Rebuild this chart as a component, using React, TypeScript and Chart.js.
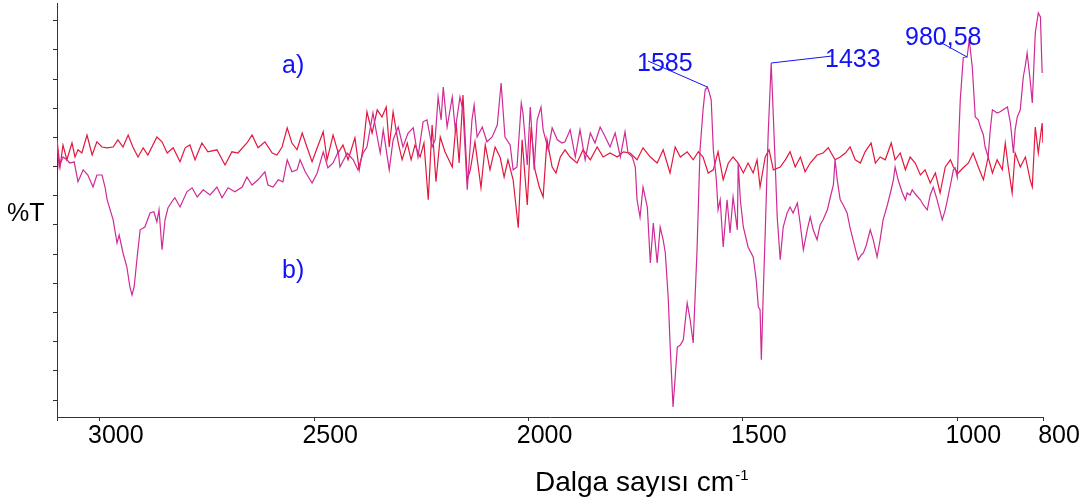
import React, { useEffect, useRef } from "react";
import { Chart, registerables } from "chart.js";

Chart.register(...registerables);

// ---- Data (wavenumber in cm-1, transmittance in arbitrary %T units) ----
const wavenumbersA = [
  3100, 3093, 3086, 3077, 3065, 3058, 3051, 3042, 3030, 3018,
  3007, 2995, 2983, 2969, 2958, 2946, 2934, 2923, 2911, 2899,
  2888, 2867, 2855, 2843, 2829, 2813, 2801, 2790, 2778, 2762,
  2748, 2727, 2708, 2692, 2678, 2657, 2645, 2631, 2615, 2598,
  2587, 2575, 2563, 2552, 2540, 2528, 2517, 2505, 2493, 2479,
  2470, 2456, 2444, 2433, 2421, 2405, 2395, 2386, 2377, 2365,
  2353, 2342, 2332, 2325, 2316, 2304, 2295, 2283, 2274, 2265,
  2253, 2244, 2234, 2225, 2216, 2206, 2195, 2178, 2169, 2162,
  2153, 2143, 2136, 2125, 2111, 2101, 2090, 2078, 2066, 2057,
  2048, 2036, 2024, 2015, 2003, 1994, 1985, 1975, 1966, 1957,
  1945, 1936, 1926, 1915, 1903, 1887, 1873, 1856, 1840, 1826,
  1810, 1793, 1779, 1763, 1747, 1733, 1716, 1700, 1686, 1670,
  1658, 1646, 1630, 1616, 1604, 1593, 1581, 1569, 1558, 1546,
  1534, 1523, 1511, 1499, 1488, 1476, 1467, 1460, 1448, 1439,
  1429, 1413, 1401, 1390, 1378, 1366, 1355, 1343, 1327, 1313,
  1301, 1285, 1273, 1261, 1250, 1238, 1226, 1215, 1201, 1191,
  1180, 1168, 1154, 1145, 1133, 1121, 1110, 1098, 1086, 1075,
  1063, 1051, 1040, 1028, 1016, 1009, 998, 986, 974, 963,
  951, 939, 928, 918, 907, 895, 888, 881, 872, 865,
  853, 841, 830, 825, 818, 811, 802, 800,
];
const transmittanceA = [
  69.3, 62.5, 68, 64.3, 68.5, 65, 66.8, 66, 70.5, 65.5,
  68.8, 67.5, 67.3, 67.5, 69.3, 67.5, 70.5, 67.5, 65, 67.3,
  65.5, 70, 68.8, 66, 67.3, 63.8, 67.3, 68, 64.3, 68.5,
  66.3, 66.8, 63, 66.3, 66, 68.5, 70.5, 67.3, 68.8, 66,
  65.5, 67.5, 72.3, 68.5, 66.8, 71, 67.5, 63.8, 67.3, 71.3,
  64.3, 70.5, 66, 68, 64.3, 69.8, 61.8, 67.3, 76.3, 71,
  76.8, 75, 77.5, 67.5, 76.3, 68.5, 64.3, 68.5, 64.3, 68,
  65, 68.5, 54.3, 73, 58.8, 70, 66.3, 62.5, 73.5, 63.5,
  80.5, 59.3, 61.8, 68.8, 57.3, 68, 61.8, 67.5, 64.8, 60,
  64.3, 59.3, 47.3, 69.3, 53, 72.5, 61.8, 57.5, 55, 69.3,
  62.5, 61, 65, 66.8, 65, 63.5, 66.8, 64.3, 67.5, 65,
  66, 65, 66.3, 66, 64.3, 67.3, 65, 63.5, 66.8, 61,
  67.5, 65, 66.3, 64.3, 66.3, 65, 61, 61.8, 66.3, 59.3,
  63.5, 65, 63.5, 61, 63.5, 61, 64.3, 57.5, 65, 66.8,
  61.8, 62.5, 64.3, 66.3, 62.5, 65, 61.3, 63.5, 65.5, 66,
  67.3, 64.3, 65, 66, 67.5, 64.3, 63.5, 66.3, 68.5, 63.5,
  65, 64.3, 68.5, 64.3, 66, 61.8, 65, 63.5, 60.5, 61.8,
  58.5, 61, 56, 62.5, 64.3, 62.5, 61, 62.3, 63.5, 66,
  62.5, 59.3, 65, 61, 64.3, 61.8, 68.5, 62.5, 56, 66,
  62.5, 65, 59.3, 57.5, 72.5, 66, 73.5, 68.5,
];

const wavenumbersB = [
  3100, 3095, 3086, 3077, 3070, 3060, 3051, 3039, 3028, 3016,
  3007, 2995, 2988, 2983, 2976, 2969, 2960, 2955, 2946, 2937,
  2930, 2925, 2920, 2913, 2906, 2895, 2883, 2874, 2867, 2862,
  2855, 2848, 2841, 2829, 2825, 2813, 2797, 2785, 2773, 2759,
  2743, 2727, 2715, 2701, 2685, 2668, 2657, 2645, 2631, 2615,
  2608, 2596, 2584, 2573, 2563, 2552, 2540, 2533, 2521, 2505,
  2493, 2479, 2468, 2456, 2444, 2440, 2423, 2409, 2398, 2386,
  2377, 2363, 2353, 2346, 2339, 2325, 2316, 2304, 2293, 2281,
  2269, 2258, 2246, 2237, 2225, 2218, 2211, 2204, 2199, 2190,
  2178, 2171, 2160, 2153, 2143, 2132, 2127, 2120, 2108, 2097,
  2085, 2073, 2064, 2055, 2043, 2036, 2027, 2017, 2013, 2003,
  1996, 1987, 1980, 1971, 1966, 1954, 1945, 1933, 1922, 1915,
  1903, 1891, 1880, 1868, 1856, 1845, 1833, 1821, 1810, 1798,
  1786, 1775, 1768, 1758, 1751, 1747, 1740, 1733, 1723, 1716,
  1709, 1700, 1693, 1686, 1681, 1674, 1670, 1663, 1653, 1646,
  1639, 1630, 1623, 1616, 1607, 1600, 1593, 1588, 1583, 1579,
  1574, 1569, 1562, 1558, 1553, 1546, 1537, 1530, 1523, 1513,
  1511, 1506, 1499, 1488, 1476, 1469, 1464, 1460, 1457, 1453,
  1448, 1441, 1434, 1429, 1425, 1420, 1413, 1406, 1397, 1390,
  1383, 1373, 1366, 1359, 1350, 1343, 1336, 1327, 1320, 1313,
  1303, 1296, 1289, 1285, 1280, 1273, 1266, 1257, 1250, 1243,
  1236, 1231, 1224, 1219, 1212, 1203, 1196, 1187, 1180, 1173,
  1163, 1156, 1149, 1145, 1138, 1128, 1121, 1117, 1110, 1105,
  1096, 1086, 1079, 1070, 1063, 1056, 1047, 1035, 1028, 1023,
  1016, 1009, 1005, 1000, 993, 986, 981, 977, 972, 965,
  958, 951, 946, 939, 935, 928, 923, 918, 911, 907,
  900, 893, 883, 876, 869, 865, 860, 853, 846, 841,
  837, 830, 825, 818, 811, 806, 802,
];
const transmittanceB = [
  68.5, 62.5, 65, 64.3, 63.5, 63.8, 58.8, 61.8, 60.5, 57.5,
  60.5, 60.5, 57.5, 54.3, 51.8, 49.3, 43.5, 45.5, 41, 37.5,
  32.5, 30.5, 32.5, 40, 46.8, 47.5, 51, 51.3, 48.8, 51.8,
  41.8, 49.3, 52.3, 54.3, 54.8, 52.5, 56.3, 57.3, 55, 56.8,
  55.5, 57.5, 54.8, 57.3, 56.3, 57.5, 60, 58, 59.3, 61.3,
  58, 57.5, 59.3, 58.8, 64.3, 61.3, 61.8, 64.3, 61.3, 58.5,
  61, 66.3, 62.3, 63.5, 66.3, 62.5, 66, 64.3, 61.8, 66,
  67.5, 76, 70, 66, 71.8, 61.8, 69.3, 72.5, 67.5, 71,
  72.3, 65, 73.8, 74.3, 67.5, 69.3, 80, 74.3, 82.5, 72.5,
  80, 71.8, 80, 76.8, 56.8, 74.3, 78, 70, 72.5, 68.8,
  70, 73, 83.5, 70, 68, 61.8, 62.5, 78.5, 76, 63,
  77.5, 61.8, 74.3, 77.5, 71.8, 66.8, 72.3, 69.3, 68.5, 68.8,
  71.8, 65, 71.8, 64.3, 71, 68.5, 72.5, 70, 67.5, 71,
  65, 71.3, 66, 65, 62.5, 54.3, 50, 57.5, 52.5, 38.5,
  48.5, 38.5, 47.5, 44.3, 41, 29.3, 18.5, 2.5, 17.5, 18,
  19.3, 28.5, 24.3, 18.5, 41.8, 66.8, 76.8, 81.8, 82.5, 81.3,
  79.3, 66.8, 59.3, 51.8, 54.3, 42.5, 54.3, 46, 55, 46.8,
  63.5, 54.3, 47.5, 42.5, 40, 34.3, 27.5, 26.8, 14.3, 29.3,
  46, 71, 88.5, 75, 64.3, 50, 39.3, 47.5, 51, 52.5,
  51, 53.5, 48, 41.8, 46.8, 50, 46.8, 44.3, 48, 49.3,
  51.8, 55, 58, 64.3, 59.3, 54.3, 53, 51, 47.3, 44.3,
  41.3, 39.3, 40.5, 41, 43, 46.8, 44.3, 40, 44.3, 49.3,
  53, 56, 59.3, 62.5, 59.3, 56, 54.3, 56, 55.5, 56.8,
  55.5, 54.3, 53, 51.8, 55.5, 57.5, 54.3, 49.3, 51.8, 54.3,
  58, 61.8, 62.3, 60, 79.3, 89.8, 90, 90, 94.3, 87.5,
  75, 74.3, 72.5, 70.5, 67.5, 65, 71.8, 76.8, 76.3, 76,
  76.3, 76.8, 77.5, 73.5, 66, 71.8, 75, 76.8, 85, 88,
  91, 84.3, 78.5, 96, 101, 100, 86,
];

const xTickValues = [3000, 2500, 2000, 1500, 1000, 800];
const xTickLabels = ["3000", "2500", "2000", "1500", "1000", "800"];
const seriesLabels = ["a)", "b)"];
const peakLabels = ["1585", "1433", "980,58"];
const peakWavenumbers = [1583, 1434, 977];
const peakValues = [82.5, 88.5, 90];
const yAxisTitle = "%T";
const xAxisTitle = "Dalga sayısı cm";
const xAxisTitleSup = "-1";

const X_MIN = 800;
const X_MAX = 3100;
const Y_MIN = 0;
const Y_MAX = 103.5;

const FONT = "'Liberation Sans', Arial, Helvetica, sans-serif";
const BLUE = "#1212f5";
const RED = "#e3173e";
const MAGENTA = "#cf2a95";
const AXIS = "#333333";

const overlayPlugin = {
  id: "overlay",
  afterDraw(chart: any) {
    const ctx = chart.ctx as CanvasRenderingContext2D;
    const xs = chart.scales.x;
    const ys = chart.scales.y;
    ctx.save();
    ctx.textAlign = "left";
    ctx.textBaseline = "alphabetic";

    // y axis title
    ctx.fillStyle = "#000";
    ctx.font = `25px ${FONT}`;
    ctx.fillText(yAxisTitle, 7, 221);

    // x axis title with superscript
    ctx.font = `28px ${FONT}`;
    ctx.fillText(xAxisTitle, 535, 491);
    const w = ctx.measureText(xAxisTitle).width;
    ctx.font = `15px ${FONT}`;
    ctx.fillText(xAxisTitleSup, 535 + w + 1, 480);

    // series labels
    ctx.fillStyle = BLUE;
    ctx.font = `25px ${FONT}`;
    ctx.fillText(seriesLabels[0], 282, 73);
    ctx.fillText(seriesLabels[1], 282, 278);

    // peak annotations
    const textPos = [
      [637, 70.5],
      [825, 67],
      [905, 45],
    ];
    const lineStart = [
      [648, 61],
      [832, 56],
      [940, 42],
    ];
    ctx.strokeStyle = BLUE;
    ctx.lineWidth = 1;
    for (let i = 0; i < peakLabels.length; i++) {
      const px = xs.getPixelForValue(peakWavenumbers[i]);
      const py = ys.getPixelForValue(peakValues[i]);
      ctx.beginPath();
      ctx.moveTo(lineStart[i][0], lineStart[i][1]);
      ctx.lineTo(px, py);
      ctx.stroke();
      ctx.fillText(peakLabels[i], textPos[i][0], textPos[i][1]);
    }
    ctx.restore();
  },
};

export default function App() {
  const canvasRef = useRef<HTMLCanvasElement | null>(null);

  useEffect(() => {
    const canvas = canvasRef.current;
    if (!canvas) return;
    const yTickPositions = Array.from({ length: 14 }, (_, k) => (17 + 29.17 * k) / 4);

    const chart = new Chart(canvas, {
      type: "line",
      data: {
        datasets: [
          {
            label: "b",
            data: wavenumbersB.map((x, i) => ({ x, y: transmittanceB[i] })),
            borderColor: MAGENTA,
            borderWidth: 1.2,
            pointRadius: 0,
            tension: 0,
            fill: false,
          },
          {
            label: "a",
            data: wavenumbersA.map((x, i) => ({ x, y: transmittanceA[i] })),
            borderColor: RED,
            borderWidth: 1.2,
            pointRadius: 0,
            tension: 0,
            fill: false,
          },
        ],
      },
      options: {
        animation: false,
        responsive: false,
        devicePixelRatio: 1,
        layout: { padding: { left: 0, top: 3, right: 43, bottom: 0 } },
        plugins: {
          legend: { display: false },
          tooltip: { enabled: false },
          title: { display: false },
        },
        scales: {
          x: {
            type: "linear",
            reverse: true,
            min: X_MIN,
            max: X_MAX,
            afterBuildTicks: (s: any) => {
              s.ticks = [X_MAX, ...xTickValues].map((v) => ({ value: v }));
            },
            afterFit: (s: any) => {
              s.height = 85;
            },
            ticks: {
              autoSkip: false,
              maxRotation: 0,
              minRotation: 0,
              labelOffset: 16,
              padding: 0,
              color: "#000",
              font: { family: FONT, size: 25 },
              callback: (v: any) => {
                const i = xTickValues.indexOf(Number(v));
                return i >= 0 ? xTickLabels[i] : "";
              },
            },
            grid: {
              drawOnChartArea: false,
              drawTicks: true,
              tickLength: 4,
              color: AXIS,
            },
            border: { display: true, color: AXIS, width: 1 },
          },
          y: {
            type: "linear",
            min: Y_MIN,
            max: Y_MAX,
            afterBuildTicks: (s: any) => {
              s.ticks = yTickPositions.map((v) => ({ value: v }));
            },
            afterFit: (s: any) => {
              s.width = 57;
            },
            ticks: { display: false },
            grid: {
              drawOnChartArea: false,
              drawTicks: true,
              tickLength: 4,
              color: AXIS,
            },
            border: { display: true, color: AXIS, width: 1 },
          },
        },
      } as any,
      plugins: [overlayPlugin],
    });

    return () => chart.destroy();
  }, []);

  return (
    <div
      style={{
        position: "absolute",
        left: 0,
        top: 0,
        width: 1086,
        height: 502,
        background: "#fff",
      }}
    >
      <canvas
        ref={canvasRef}
        width={1086}
        height={502}
        style={{ display: "block", width: 1086, height: 502 }}
      />
    </div>
  );
}
